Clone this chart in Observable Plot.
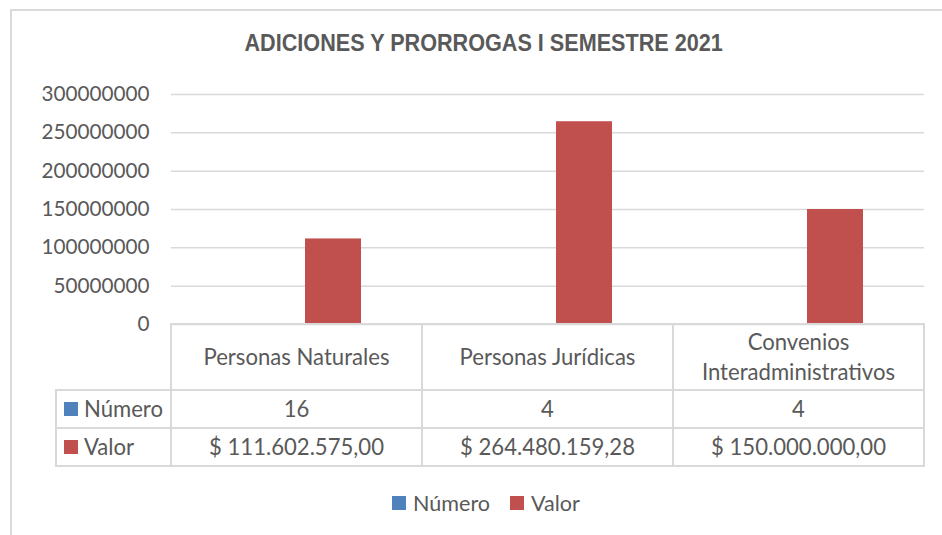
<!DOCTYPE html>
<html>
<head>
<meta charset="utf-8">
<script src="https://cdn.jsdelivr.net/npm/d3@7"></script>
<script src="https://cdn.jsdelivr.net/npm/@observablehq/plot@0.6"></script>
<style>
html, body { margin: 0; padding: 0; background: #fff; overflow: hidden; width: 942px; height: 535px; }
#wrap { position: relative; width: 942px; height: 535px; overflow: hidden; }
#frame { position: absolute; left: 10px; top: 9px; width: 1000px; height: 600px; border: 2px solid #D9D9D9; box-sizing: border-box; }
#title { position: absolute; left: 0; width: 967px; top: 31px; height: 24px; line-height: 24px; text-align: center; font-family: "Liberation Sans", Arial, sans-serif; font-weight: bold; font-size: 24px; color: #595959; white-space: nowrap; }
#title span { display: inline-block; transform-origin: center center; }
#plot { position: absolute; left: 0; }
.cell { position: absolute; box-sizing: border-box; border: 2px solid #D9D9D9; display: flex; align-items: center; justify-content: center; text-align: center; color: #595959; font-family: Lato, "Open Sans", sans-serif; line-height: 30px; }
.rowlab { justify-content: flex-start; padding-left: 7px; }
.sw { display: inline-block; width: 14px; height: 14px; margin-right: 6px; flex: none; }
#legend { position: absolute; left: 0; width: 972px; top: 489px; height: 28px; display: flex; justify-content: center; align-items: center; font-family: Lato, "Open Sans", sans-serif; color: #595959; }
#legend .item { display: flex; align-items: center; margin: 0 10px; }
#legend .sw { margin-right: 7px; }
</style>
</head>
<body>
<div id="wrap">
  <div id="frame"></div>
  <div id="title"><span></span></div>
  <div id="plot"></div>
</div>
<script>
// ---- data ----
const titleText = "ADICIONES Y PRORROGAS I SEMESTRE 2021";
const categories = ["Personas Naturales", "Personas Jurídicas", "Convenios Interadministrativos"];
const seriesNames = ["Número", "Valor"];
const seriesColors = ["#4F81BD", "#C0504D"];
const numero = [16, 4, 4];
const valor = [111602575.00, 264480159.28, 150000000.00];
const yTicks = [0, 50000000, 100000000, 150000000, 200000000, 250000000, 300000000];

// ---- helpers ----
function fitSize(text, family, weight, target) {
  const ctx = document.createElement("canvas").getContext("2d");
  ctx.font = `${weight} 100px ${family}`;
  return 100 * target / ctx.measureText(text).width;
}
const FAMILY = 'Lato, "Open Sans", sans-serif';
const tableSize = fitSize("Personas Naturales", FAMILY, "normal", 186);
const tickSize = fitSize("300000000", FAMILY, "normal", 108);
const legendSize = fitSize("Número", FAMILY, "normal", 77);

const esLocale = d3.formatLocale({decimal: ",", thousands: ".", grouping: [3], currency: ["$ ", ""]});
const fmtValor = esLocale.format("$,.2f");

// ---- title ----
const tspan = document.querySelector("#title span");
tspan.textContent = titleText;
{
  const ctx = document.createElement("canvas").getContext("2d");
  ctx.font = 'bold 24px "Liberation Sans", Arial, sans-serif';
  const w = ctx.measureText(titleText).width;
  tspan.style.transform = `scaleX(${479 / w})`;
}

// ---- chart ----
const rows = categories.flatMap((c, i) => [
  {cat: c, series: seriesNames[0], value: numero[i]},
  {cat: c, series: seriesNames[1], value: valor[i]}
]);

const SVG_TOP = 60;
const plot = Plot.plot({
  width: 942,
  height: 274,
  marginTop: 34,
  marginBottom: 10,
  marginLeft: 170,
  marginRight: 17,
  style: {fontFamily: FAMILY, color: "#595959", background: "transparent", overflow: "visible"},
  fx: {domain: categories, padding: 0, axis: null},
  x: {domain: seriesNames, paddingInner: 0.2254, paddingOuter: 0.853, axis: null},
  y: {domain: [0, 300000000], axis: null},
  color: {domain: seriesNames, range: seriesColors},
  marks: [
    Plot.gridY(yTicks, {stroke: "#D9D9D9", strokeOpacity: 1, strokeWidth: 1.5}),
    Plot.barY(rows, {fx: "cat", x: "series", y: "value", fill: "series"}),
    Plot.axisY(yTicks, {label: null, tickSize: 0, tickPadding: 22, tickFormat: d => String(d), fill: "#595959", fontSize: tickSize})
  ]
});
const holder = document.getElementById("plot");
holder.style.top = SVG_TOP + "px";
holder.appendChild(plot);

// ---- data table ----
const wrap = document.getElementById("wrap");
const fx = plot.scale("fx");
const ys = plot.scale("y");
const top0 = SVG_TOP + ys.apply(0);
const headerH = 66, rowH = 38;
const leftCol = 56;
const firstX = fx.apply(categories[0]);

function cell(x1, y1, x2, y2, cls) {
  const d = document.createElement("div");
  d.className = "cell" + (cls ? " " + cls : "");
  d.style.left = (x1 - 1) + "px";
  d.style.top = (y1 - 1) + "px";
  d.style.width = (x2 - x1 + 2) + "px";
  d.style.height = (y2 - y1 + 2) + "px";
  d.style.fontSize = tableSize + "px";
  wrap.appendChild(d);
  return d;
}

categories.forEach((c, i) => {
  const x1 = fx.apply(c), x2 = x1 + fx.bandwidth;
  cell(x1, top0, x2, top0 + headerH).textContent = c;
  cell(x1, top0 + headerH, x2, top0 + headerH + rowH).textContent = String(numero[i]);
  cell(x1, top0 + headerH + rowH, x2, top0 + headerH + 2 * rowH).textContent = fmtValor(valor[i]);
});
seriesNames.forEach((s, j) => {
  const d = cell(leftCol, top0 + headerH + j * rowH, firstX, top0 + headerH + (j + 1) * rowH, "rowlab");
  const sw = document.createElement("span");
  sw.className = "sw";
  sw.style.background = seriesColors[j];
  d.appendChild(sw);
  d.appendChild(document.createTextNode(s));
});

// ---- legend ----
const legend = document.createElement("div");
legend.id = "legend";
legend.style.fontSize = legendSize + "px";
seriesNames.forEach((s, j) => {
  const it = document.createElement("div");
  it.className = "item";
  const sw = document.createElement("span");
  sw.className = "sw";
  sw.style.background = seriesColors[j];
  it.appendChild(sw);
  it.appendChild(document.createTextNode(s));
  legend.appendChild(it);
});
wrap.appendChild(legend);
</script>
</body>
</html>
